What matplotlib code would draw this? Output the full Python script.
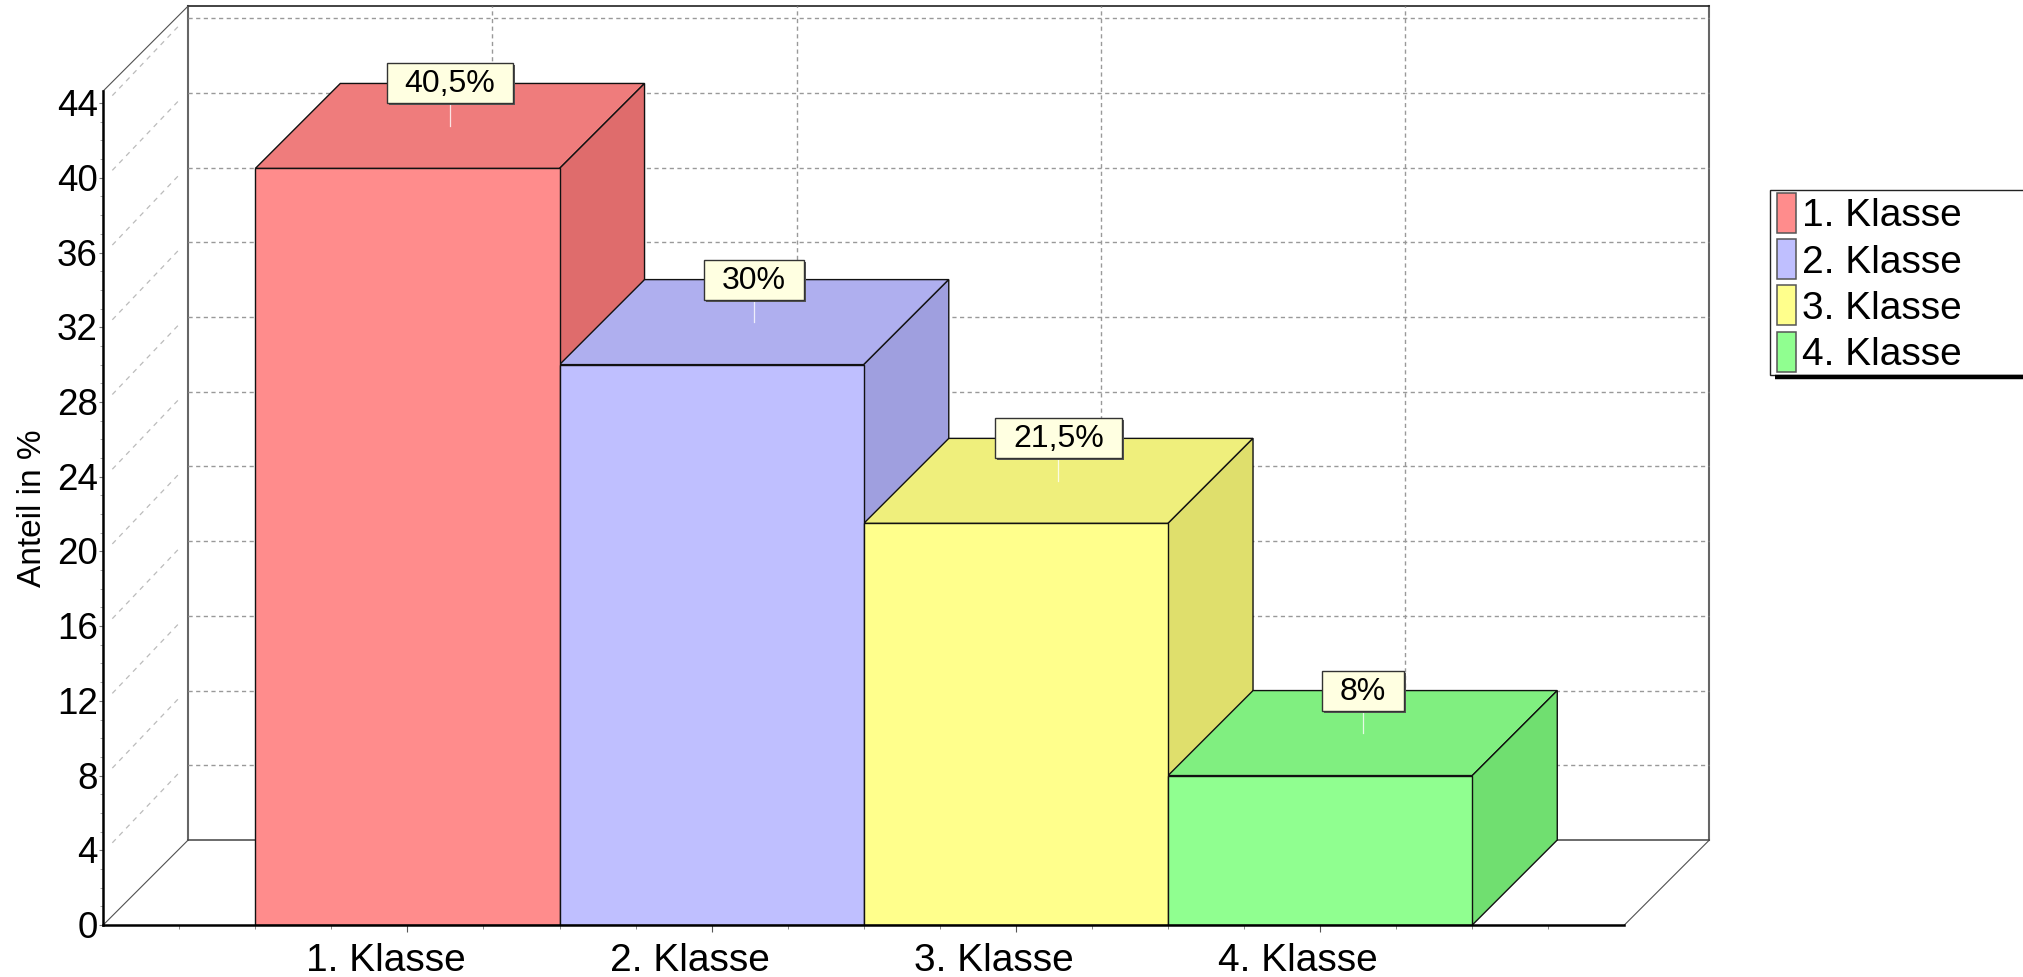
import matplotlib
matplotlib.use("Agg")
import matplotlib.pyplot as plt
from matplotlib.patches import Polygon, Rectangle
from matplotlib.transforms import ScaledTranslation

plt.rcParams["font.family"] = ["Liberation Sans", "DejaVu Sans"]

# data
categories = ["1. Klasse", "2. Klasse", "3. Klasse", "4. Klasse"]
shares = [40.5, 30, 21.5, 8]
share_labels = ["40,5%", "30%", "21,5%", "8%"]
y_ticks = [0, 4, 8, 12, 16, 20, 24, 28, 32, 36, 40, 44]
ylabel = "Anteil in %"

# front, top, side colours
front_colors = ["#FF8C8C", "#BFBFFF", "#FFFF8C", "#90FF90"]
top_colors = ["#EF7C7C", "#AFAFEF", "#EFEF7C", "#80EF80"]
side_colors = ["#DF6C6C", "#9F9FDF", "#DFDF6C", "#70DF70"]

W, H = 2024, 978
fig = plt.figure(figsize=(W / 100, H / 100), dpi=100)
fig.patch.set_facecolor("white")

# axes area in pixels
left, right, base, top_px = 103.2, 1624.4, 926, 92
ax = fig.add_axes([left / W, (H - base) / H, (right - left) / W, (base - top_px) / H])
ax.set_xlim(0, 5)
ax.set_ylim(0, (base - top_px) / 18.68)
ymax = ax.get_ylim()[1]

# 3d depth in data units (85 px each way)
dx = 85 / 304.3
dy = 85 / 18.68

# back wall and floor
wall_col = "#666666"
ax.plot([dx, dx], [dy, ymax + dy], color=wall_col, lw=1.5, clip_on=False, zorder=1)
ax.plot([5 + dx, 5 + dx], [dy, ymax + dy], color=wall_col, lw=1.5, clip_on=False, zorder=1)
ax.plot([dx, 5 + dx], [ymax + dy, ymax + dy], color="#222222", lw=1.2, clip_on=False, zorder=1)
ax.plot([dx, 5 + dx], [dy, dy], color="#444444", lw=1.1, clip_on=False, zorder=1)
ax.plot([0, dx], [0, dy], color="#505050", lw=0.8, clip_on=False, zorder=1)
ax.plot([5, 5 + dx], [0, dy], color="#505050", lw=0.8, clip_on=False, zorder=1)
ax.plot([0, dx], [ymax, ymax + dy], color="#505050", lw=0.8, clip_on=False, zorder=1)

# grid on the walls
for v in y_ticks[1:]:
    ax.plot([dx, 5 + dx], [v + dy, v + dy], color="#999999", lw=1, ls=(0, (3, 2.5)),
            clip_on=False, zorder=1)
    ax.plot([0.03, dx - 0.03], [v + 0.4, v + dy - 0.4], color="#BBBBBB", lw=0.9, ls=(0, (4, 4)),
            clip_on=False, zorder=1)
for i in range(len(categories)):
    ax.plot([i + 1 + dx, i + 1 + dx], [dy, ymax + dy], color="#999999", lw=1,
            ls=(0, (3, 2.5)), clip_on=False, zorder=1)

# bars
xs = [i + 1 for i in range(len(categories))]
ax.bar(xs, shares, width=1.0, color=front_colors, edgecolor="#111111", linewidth=1,
       zorder=3)
for i, v in enumerate(shares):
    x0, x1 = xs[i] - 0.5, xs[i] + 0.5
    ax.add_patch(Polygon([(x0, v), (x1, v), (x1 + dx, v + dy), (x0 + dx, v + dy)],
                         facecolor=top_colors[i], edgecolor="#111111", lw=1,
                         clip_on=False, zorder=2 + i * 0.1))
    ax.add_patch(Polygon([(x1, 0), (x1 + dx, dy), (x1 + dx, v + dy), (x1, v)],
                         facecolor=side_colors[i], edgecolor="#111111", lw=1,
                         clip_on=False, zorder=2 + i * 0.1))

# axes styling
for name in ["top", "right"]:
    ax.spines[name].set_visible(False)
ax.spines["left"].set_linewidth(1.8)
ax.spines["bottom"].set_linewidth(1.8)
ax.spines["left"].set_zorder(5)
ax.spines["bottom"].set_zorder(5)
ax.patch.set_alpha(0)

ax.set_yticks(y_ticks)
ax.set_yticks([v for v in range(0, 45) if v % 4 != 0], minor=True)
ax.set_xticks(xs)
ax.set_xticklabels(categories)
ax.set_xticks([i * 0.25 for i in range(21) if i % 4 != 0], minor=True)
ax.tick_params(axis="y", which="major", labelsize=26.5, length=3, width=0.8, color="#777777", pad=1)
ax.tick_params(axis="y", which="minor", length=2, width=0.6, color="#999999")
ax.tick_params(axis="x", which="major", labelsize=28, length=5, width=0.8, color="#555555", pad=7)
ax.tick_params(axis="x", which="minor", length=3, width=0.7, color="#888888")
# category labels sit left of their ticks in the original
shift = ScaledTranslation(-22 / 100, 0, fig.dpi_scale_trans)
for lab in ax.get_xticklabels():
    lab.set_transform(lab.get_transform() + shift)
up = ScaledTranslation(0, 1.5 / 100, fig.dpi_scale_trans)
for lab in ax.get_yticklabels():
    lab.set_transform(lab.get_transform() + up)
fig.text(33 / W, 1 - 508 / H, ylabel, rotation=90, fontsize=24, ha="center", va="center")

# value labels with white stems
fig.canvas.draw()
renderer = fig.canvas.get_renderer()
for i, v in enumerate(shares):
    xc = xs[i] + dx / 2
    ax.plot([xc, xc], [v + dy / 2, v + dy], color="#FFFFFF", lw=0.9, alpha=0.8, zorder=6)
    t = ax.text(xc, v + dy, share_labels[i], fontsize=23, ha="center", va="center",
                zorder=9, color="black")
    bb = t.get_window_extent(renderer)
    x_mid = (bb.x0 + bb.x1) / 2
    y_mid = ax.transData.transform((xc, v + dy))[1]
    w = bb.width + 36
    h = 40
    ax.add_patch(Rectangle((x_mid - w / 2 + 2, y_mid - h / 2 - 2), w, h, transform=None,
                           facecolor="#555555", edgecolor="none", zorder=7, clip_on=False))
    ax.add_patch(Rectangle((x_mid - w / 2, y_mid - h / 2), w, h, transform=None,
                           facecolor="#FFFFE1", edgecolor="#333333", lw=1, zorder=8,
                           clip_on=False))

# legend box, in pixels of the figure
lax = fig.add_axes([0, 0, 1, 1], facecolor="none")
lax.set_xlim(0, W)
lax.set_ylim(H, 0)
lax.axis("off")
lax.plot([1775, W], [378, 378], color="black", lw=3.2, solid_capstyle="butt")
lax.add_patch(Rectangle((1770, 191), W - 1770 + 5, 185, facecolor="white", edgecolor="#222222", lw=1))
for i, name in enumerate(categories):
    y0 = 194 + i * 46.2
    lax.add_patch(Rectangle((1777, y0), 19, 40, facecolor=front_colors[i], edgecolor="#555555", lw=1.1))
    lax.text(1802, y0 + 22.5, name, fontsize=28, ha="left", va="center")

fig.savefig("out.png", dpi=100)
